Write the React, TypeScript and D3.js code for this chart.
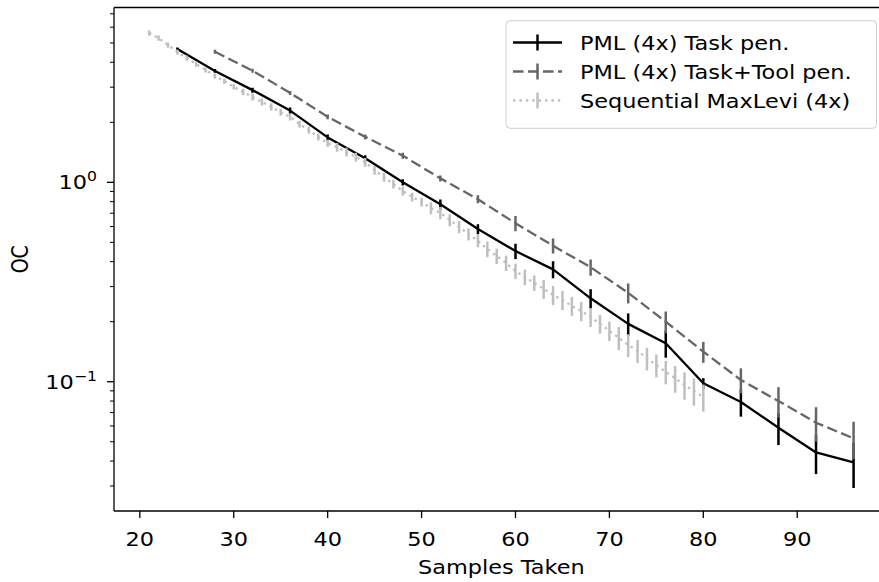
import React from 'react';
import * as d3 from 'd3';

const W = 879;
const H = 582;
const box = { left: 114, right: 888.8, top: 7.5, bottom: 511 };
// glyphs in the reference are a bit wider than plain DejaVu
const SX = 1.18;
const FONT = '"DejaVu Sans", sans-serif';

// PML (4x) Task pen.
const taskX = [24, 28, 32, 36, 40, 44, 48, 52, 56, 60, 64, 68, 72, 76, 80, 84, 88, 92, 96];
const taskY = [4.66, 3.62, 2.9, 2.29, 1.68, 1.32, 1.0, 0.776, 0.583, 0.452, 0.366, 0.262, 0.195, 0.156, 0.0982, 0.0791, 0.0588, 0.0442, 0.0394];
const taskErr = [0.08, 0.08, 0.084, 0.08, 0.058, 0.046, 0.035, 0.045, 0.034, 0.04, 0.036, 0.029, 0.025, 0.024, 0.006, 0.0123, 0.0107, 0.0098, 0.0101];

// PML (4x) Task+Tool pen.
const toolX = [28, 32, 36, 40, 44, 48, 52, 56, 60, 64, 68, 72, 76, 80, 84, 88, 92, 96];
const toolY = [4.52, 3.63, 2.81, 2.13, 1.69, 1.36, 1.047, 0.823, 0.623, 0.481, 0.375, 0.279, 0.2, 0.1414, 0.102, 0.08, 0.0623, 0.052];
const toolErr = [0.1, 0.084, 0.065, 0.061, 0.049, 0.047, 0.036, 0.038, 0.054, 0.042, 0.035, 0.032, 0.025, 0.017, 0.0147, 0.0139, 0.0122, 0.011];

// Sequential MaxLevi (4x)
const seqX = [21, 22, 23, 24, 25, 26, 27, 28, 29, 30, 31, 32, 33, 34, 35, 36, 37, 38, 39, 40,
  41, 42, 43, 44, 45, 46, 47, 48, 49, 50, 51, 52, 53, 54, 55, 56, 57, 58, 59, 60,
  61, 62, 63, 64, 65, 66, 67, 68, 69, 70, 71, 72, 73, 74, 75, 76, 77, 78, 79, 80];
const seqY = [5.61, 5.29, 4.88, 4.5, 4.2, 3.92, 3.66, 3.41, 3.22, 3.01, 2.84, 2.68, 2.53, 2.39, 2.25, 2.13, 1.96, 1.83, 1.69, 1.57,
  1.5, 1.42, 1.34, 1.26, 1.15, 1.06, 0.98, 0.905, 0.844, 0.796, 0.743, 0.702, 0.647, 0.597, 0.55, 0.508, 0.463, 0.427, 0.394, 0.359,
  0.335, 0.313, 0.292, 0.272, 0.257, 0.24, 0.226, 0.211, 0.195, 0.18, 0.166, 0.153, 0.143, 0.131, 0.121, 0.112, 0.104, 0.0963, 0.0898, 0.0838];
const seqErr = [0.17, 0.16, 0.15, 0.13, 0.13, 0.12, 0.11, 0.1, 0.1, 0.09, 0.11, 0.11, 0.1, 0.1, 0.09, 0.085, 0.078, 0.073, 0.068, 0.063,
  0.075, 0.071, 0.067, 0.063, 0.058, 0.053, 0.049, 0.045, 0.042, 0.04, 0.052, 0.049, 0.045, 0.042, 0.039, 0.036, 0.042, 0.038, 0.035, 0.032,
  0.03, 0.028, 0.032, 0.03, 0.028, 0.026, 0.025, 0.023, 0.021, 0.02, 0.022, 0.02, 0.019, 0.017, 0.016, 0.015, 0.016, 0.015, 0.014, 0.013];

const xTicks = [20, 30, 40, 50, 60, 70, 80, 90];
const yMajor = [1, 0.1];
const yMajorExp = ['0', '\u22121'];

const series = [
  { name: 'PML (4x) Task pen.', xs: taskX, ys: taskY, es: taskErr, color: '#000000', dash: null },
  { name: 'PML (4x) Task+Tool pen.', xs: toolX, ys: toolY, es: toolErr, color: '#666666', dash: '10.5,4.5' },
  { name: 'Sequential MaxLevi (4x)', xs: seqX, ys: seqY, es: seqErr, color: '#bfbfbf', dash: '2.4,4' },
];

const Txt = ({ x, y, anchor = 'start', size = 19, rotate = 0, children }: any) => (
  <text
    transform={`translate(${x},${y}) scale(${SX},1)${rotate ? ` rotate(${rotate})` : ''}`}
    textAnchor={anchor}
    fontSize={size}
    fontFamily={FONT}
    fill="#000"
  >
    {children}
  </text>
);

export default function App() {
  const x = d3.scaleLinear().domain([17.25, 99.75]).range([box.left, box.right]);
  const y = d3.scaleLog().domain([0.02247, 7.53]).range([box.bottom, box.top]);
  const lineW = 2.3;

  const minor = y.ticks().filter((t) => {
    const l = Math.log10(t);
    return Math.abs(l - Math.round(l)) > 1e-6;
  });

  const clipId = 'plotclip';

  return (
    <svg width={W} height={H} style={{ position: 'absolute', left: 0, top: 0, background: '#fff' }}>
      <defs>
        <clipPath id={clipId}>
          <rect x={box.left} y={box.top} width={box.right - box.left} height={box.bottom - box.top} />
        </clipPath>
      </defs>
      <rect width={W} height={H} fill="#fff" />

      <g clipPath={`url(#${clipId})`}>
        {series.map((s) => {
          const pts = s.xs.map((xv, i) => [x(xv), y(s.ys[i])] as [number, number]);
          const path = d3.line()(pts) || '';
          return (
            <g key={s.name}>
              {s.xs.map((xv, i) => {
                const lo = Math.max(s.ys[i] - s.es[i], 1e-4);
                return (
                  <line
                    key={i}
                    x1={x(xv)}
                    x2={x(xv)}
                    y1={y(s.ys[i] + s.es[i])}
                    y2={y(lo)}
                    stroke={s.color}
                    strokeWidth={2.5}
                  />
                );
              })}
              <path
                d={path}
                fill="none"
                stroke={s.color}
                strokeWidth={lineW}
                strokeDasharray={s.dash || undefined}
                strokeLinejoin="round"
              />
            </g>
          );
        })}
      </g>

      {/* spines */}
      <g stroke="#000" strokeWidth={1.3} fill="none">
        <line x1={box.left} x2={box.left} y1={box.top} y2={box.bottom} />
        <line x1={box.left} x2={box.right} y1={box.bottom} y2={box.bottom} />
        <line x1={box.left} x2={box.right} y1={box.top} y2={box.top} />
        <line x1={box.right} x2={box.right} y1={box.top} y2={box.bottom} />
      </g>

      {/* x axis */}
      {xTicks.map((t) => (
        <g key={t}>
          <line x1={x(t)} x2={x(t)} y1={box.bottom} y2={box.bottom + 7} stroke="#000" strokeWidth={1.3} />
          <Txt x={x(t)} y={546} anchor="middle">{t}</Txt>
        </g>
      ))}
      <Txt x={(box.left + box.right) / 2} y={574} anchor="middle">Samples Taken</Txt>

      {/* y axis */}
      {minor.map((t) => (
        <line key={t} x1={box.left - 4} x2={box.left} y1={y(t)} y2={y(t)} stroke="#000" strokeWidth={1} />
      ))}
      {yMajor.map((t, i) => (
        <g key={t}>
          <line x1={box.left - 7} x2={box.left} y1={y(t)} y2={y(t)} stroke="#000" strokeWidth={1.3} />
          <Txt x={97} y={y(t) + 7} anchor="end">
            <tspan>10</tspan>
            <tspan dy={-8} fontSize={13.3}>{yMajorExp[i]}</tspan>
          </Txt>
        </g>
      ))}
      <Txt x={28} y={(box.top + box.bottom) / 2} anchor="middle" rotate={-90}>OC</Txt>

      {/* legend */}
      <g>
        <rect x={506} y={20.7} width={370.5} height={107.6} rx={4} fill="#fff" fillOpacity={0.8} stroke="#cccccc" strokeWidth={1} />
        {series.map((s, i) => {
          const ry = 42.5 + i * 29;
          return (
            <g key={s.name}>
              <line x1={513} x2={562} y1={ry} y2={ry} stroke={s.color} strokeWidth={lineW} strokeDasharray={s.dash || undefined} />
              <line x1={537.5} x2={537.5} y1={ry - 8} y2={ry + 8} stroke={s.color} strokeWidth={2.5} />
              <Txt x={580} y={ry + 7}>{s.name}</Txt>
            </g>
          );
        })}
      </g>
    </svg>
  );
}
